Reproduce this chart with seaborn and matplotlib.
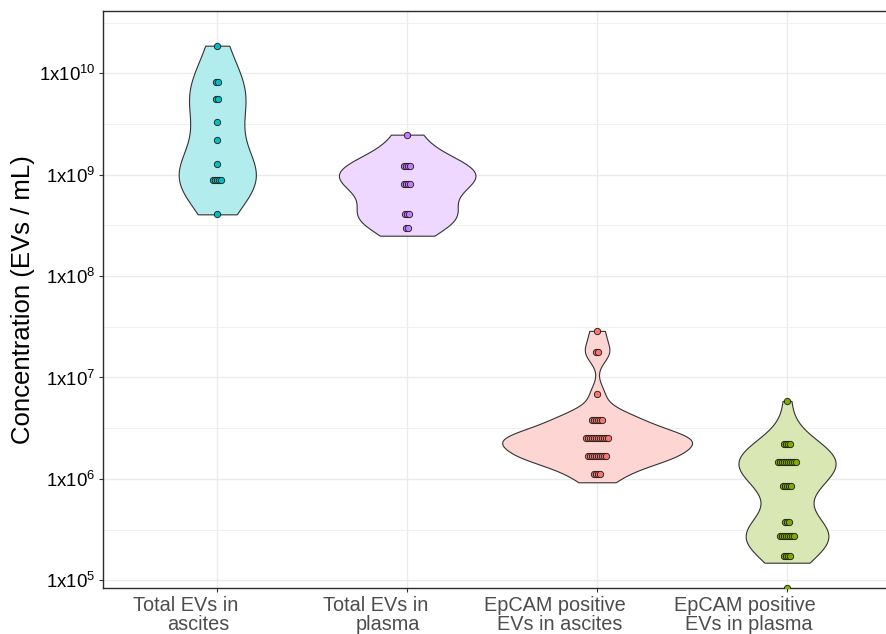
import numpy as np
import pandas as pd
import matplotlib
matplotlib.use("Agg")
import matplotlib.pyplot as plt
import matplotlib.transforms as mtransforms
from matplotlib.ticker import FixedLocator, NullFormatter
import seaborn as sns

# ---- data -------------------------------------------------------------
groups = ["Total EVs in ascites", "Total EVs in plasma",
          "EpCAM positive EVs in ascites", "EpCAM positive EVs in plasma"]
label_lines = [("Total EVs in", "ascites"), ("Total EVs in", "plasma"),
               ("EpCAM positive", "EVs in ascites"), ("EpCAM positive", "EVs in plasma")]
base_colors = ["#00BFC4", "#C77CFF", "#F8766D", "#7CAE00"]

# concentrations, EVs / mL
total_ascites = [4.06e8, 7.60e8, 8.24e8, 8.93e8, 9.68e8, 1.05e9, 1.27e9, 2.21e9,
                 3.33e9, 5.18e9, 5.94e9, 7.78e9, 8.53e9, 1.87e10]
total_plasma = [2.50e8, 3.60e8, 3.82e8, 4.09e8, 4.39e8, 7.10e8, 7.78e8, 8.53e8,
                9.35e8, 1.07e9, 1.17e9, 1.29e9, 1.41e9, 2.48e9]
epcam_ascites = [9.25e5, 1.045e6, 1.18e6, 1.33e6,
                 1.48e6, 1.52e6, 1.57e6, 1.62e6, 1.67e6, 1.72e6, 1.77e6, 1.83e6, 1.89e6, 1.94e6,
                 2.22e6, 2.27e6, 2.32e6, 2.37e6, 2.42e6, 2.47e6, 2.52e6, 2.57e6, 2.63e6, 2.69e6,
                 2.77e6, 2.85e6,
                 3.31e6, 3.50e6, 3.72e6, 3.95e6, 4.20e6, 4.45e6,
                 6.92e6, 1.66e7, 1.95e7, 2.88e7]
epcam_plasma = [0.0,
                1.49e5, 1.65e5, 1.85e5, 2.05e5,
                2.33e5, 2.45e5, 2.57e5, 2.69e5, 2.82e5, 2.95e5, 3.08e5, 3.21e5,
                3.49e5, 3.73e5, 4.00e5,
                7.30e5, 7.90e5, 8.55e5, 9.25e5, 1.00e6,
                1.26e6, 1.30e6, 1.34e6, 1.38e6, 1.42e6, 1.47e6, 1.51e6, 1.56e6, 1.61e6, 1.74e6,
                1.91e6, 2.06e6, 2.22e6, 2.52e6,
                5.87e6]
series = [total_ascites, total_plasma, epcam_ascites, epcam_plasma]


def blend_white(hex_color, alpha):
    rgb = np.array(matplotlib.colors.to_rgb(hex_color))
    return tuple(alpha * rgb + (1 - alpha))


def nrd0_factor(kde):
    """Silverman's rule of thumb (R's bw.nrd0) expressed as a factor of the sd."""
    x = np.asarray(kde.dataset).ravel()
    sd = np.std(x, ddof=1)
    q75, q25 = np.percentile(x, [75, 25])
    lo = min(sd, (q75 - q25) / 1.34)
    return 0.9 * lo * len(x) ** -0.2 / sd


def dot_bins(values, width):
    """Dot-density binning on log10 values: returns (bin centre, count)."""
    logs = np.sort(np.log10(values))
    bins, current, start = [], [], None
    for v in logs:
        if current and v >= start + width:
            bins.append(current)
            current = []
        if not current:
            start = v
        current.append(v)
    if current:
        bins.append(current)
    return [((b[0] + b[-1]) / 2, len(b)) for b in bins]


rows = []
for g, vals in zip(groups, series):
    for v in vals:
        rows.append({"group": g, "value": v})
df = pd.DataFrame(rows)
df_pos = df[df["value"] > 0]

# ---- style ------------------------------------------------------------
sns.set_style("white")
plt.rcParams["font.family"] = ["Liberation Sans", "DejaVu Sans"]
plt.rcParams["mathtext.fontset"] = "custom"
plt.rcParams["mathtext.rm"] = "Liberation Sans"
plt.rcParams["mathtext.default"] = "regular"

fig = plt.figure(figsize=(8.86, 6.34), dpi=100)
ax = fig.add_axes([0.1166, 0.0726, 0.9003, 0.9096])

light = [blend_white(c, 0.3) for c in base_colors]
sns.violinplot(data=df_pos, x="group", y="value", hue="group", order=groups,
               hue_order=groups, palette=light, legend=False, log_scale=True,
               cut=0, inner=None, density_norm="area", common_norm=True,
               width=1.0, linewidth=0.8, linecolor="#333333", saturation=1,
               bw_method=nrd0_factor, ax=ax)

# ---- dot plot on top of the violins -------------------------------------
pos_logs = np.log10(df_pos["value"].to_numpy())
binwidth = (pos_logs.max() - pos_logs.min()) / 30
dx = 0.01085
floor_tf = mtransforms.blended_transform_factory(ax.transData, ax.transAxes)
for i, (vals, col) in enumerate(zip(series, base_colors)):
    vals = np.asarray(vals)
    pos = vals[vals > 0]
    for centre, n in dot_bins(pos, binwidth):
        xs = i + (np.arange(n) - (n - 1) / 2) * dx
        ax.scatter(xs, np.full(n, 10 ** centre), s=21, color=col,
                   edgecolor="#1a1a1a", linewidth=0.6, zorder=4)
    n0 = int((vals <= 0).sum())
    if n0:
        xs = i + (np.arange(n0) - (n0 - 1) / 2) * dx
        ax.scatter(xs, np.zeros(n0), s=21, color=col, edgecolor="#1a1a1a",
                   linewidth=0.6, zorder=4, transform=floor_tf, clip_on=True)

# ---- axes -------------------------------------------------------------
ax.set_xlim(-0.6, 3.6)
ax.set_ylim(10 ** 4.924, 10 ** 10.611)
ax.set_xticks(range(len(groups)))
ax.set_xticklabels([""] * len(groups))
ax.set_xlabel("")

decades = list(range(5, 11))
ax.yaxis.set_major_locator(FixedLocator([10.0 ** d for d in decades]))
ax.set_yticklabels([r"$\mathregular{1x10^{%d}}$" % d for d in decades])
ax.yaxis.set_minor_locator(FixedLocator([10.0 ** (d + 0.5) for d in range(4, 11)]))
ax.yaxis.set_minor_formatter(NullFormatter())
ax.tick_params(axis="y", which="major", length=3, width=0.8, color="#333333",
               pad=2.5, labelsize=13.4, labelcolor="black", left=True)
ax.tick_params(axis="x", which="major", length=3, width=0.8, color="#333333",
               bottom=True)
ax.tick_params(which="minor", length=0)

ax.grid(which="major", color="#EBEBEB", linewidth=1.0)
ax.grid(which="minor", axis="y", color="#F0F0F0", linewidth=0.7)
ax.set_axisbelow(True)

for side in ("left", "bottom", "top"):
    ax.spines[side].set_visible(True)
    ax.spines[side].set_color("#2b2b2b")
    ax.spines[side].set_linewidth(1.0)
ax.spines["right"].set_visible(False)

ax.set_ylabel("Concentration (EVs / mL)", fontsize=18.5, color="black")
ax.yaxis.set_label_coords(-0.0856, 0.5)

# two-line category labels, each line justified at 0.8 of its own width
fig.canvas.draw()
renderer = fig.canvas.get_renderer()
for i, lines in enumerate(label_lines):
    for k, line in enumerate(lines):
        t = ax.text(i, 0, line, transform=floor_tf, ha="left", va="baseline",
                    fontsize=14.3, color="#4D4D4D", clip_on=False)
        w = t.get_window_extent(renderer).width
        shift = mtransforms.ScaledTranslation(-0.8 * w / fig.dpi,
                                              -(23 + 19.5 * k) / fig.dpi,
                                              fig.dpi_scale_trans)
        t.set_transform(floor_tf + shift)

fig.savefig("out.png", dpi=100)
